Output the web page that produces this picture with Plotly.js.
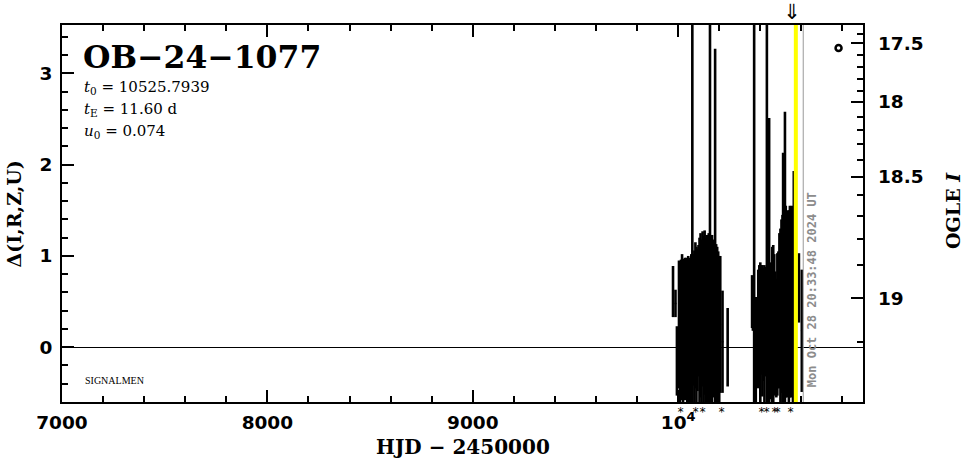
<!DOCTYPE html>
<html>
<head>
<meta charset="utf-8">
<script src="https://cdn.plot.ly/plotly-3.0.1.min.js"></script>
<style>html,body{margin:0;padding:0;background:#fff;}#plot{width:966px;height:459px;}</style>
</head>
<body>
<div id="plot"></div>
<script>
// ---- data (HJD-2450000, Delta, error) ----
var hjd1 = [9975,9987,9994,10004,10009,10014,10019,10024,10029,10034,10039,10044,10049,10054,10059,10064,10069,10074,10079,10084,10089,10094,10099,10104,10109,10114,10119,10124,10129,10134,10139,10144,10149,10155,10160,10165,10170,10175,10180,10185,10190,10195,10200,10205,10216,10241];
var dlt1 = [0.61,0.48,-0.15,0.25,0.10,0.30,0.22,0.15,0.35,0.20,0.28,0.10,0.32,0.18,0.25,0.12,0.40,0.30,0.22,0.35,0.18,0.30,0.40,0.25,0.35,0.20,0.42,0.30,0.38,0.22,0.35,0.28,0.40,0.45,0.32,0.25,0.38,0.30,0.30,0.28,0.20,0.35,0.15,0.25,0.06,0.00];
var err1 = [0.28,0.15,0.38,0.70,0.75,0.66,0.80,0.82,0.60,0.78,0.70,0.85,0.68,0.80,0.72,0.90,3.50,0.72,0.84,0.80,0.92,0.78,0.72,0.95,0.90,0.98,0.85,0.92,0.90,0.98,0.88,0.92,0.85,3.50,0.90,0.98,0.80,0.85,2.97,0.85,0.90,0.70,0.85,0.75,0.56,0.43];

var hjd2 = [10360,10364,10370,10378,10383,10390,10395,10400,10405,10410,10415,10420,10425,10432,10437,10443,10448,10453,10458,10463,10468,10473,10478,10483,10488,10493,10498,10503,10508,10511,10515,10520,10524,10529,10534,10539,10544,10549,10554,10559,10563,10568,10588,10602];
var dlt2 = [0.50,0.48,0.50,-0.05,0.10,0.20,0.25,0.15,0.30,0.18,0.25,0.12,0.28,0.50,0.22,0.30,0.18,0.30,0.25,0.20,0.32,0.15,0.10,0.25,0.30,0.40,0.35,0.45,0.40,0.50,0.45,0.50,0.50,0.45,0.55,0.40,0.50,0.45,0.55,0.40,0.45,0.50,0.65,0.18];
var err2 = [0.29,0.30,3.50,0.60,0.45,0.65,0.65,0.78,0.60,0.72,0.62,0.78,0.60,3.50,0.68,2.21,0.75,0.62,0.85,0.92,0.70,0.68,0.65,0.78,0.75,0.85,0.95,0.95,1.05,1.63,1.05,2.08,1.05,1.00,0.95,1.10,1.05,1.00,1.00,1.10,1.48,1.00,0.38,0.67];

// markers below the axis (*)
var asteriskT = [10009,10082,10119,10212,10406,10431,10471,10482,10547];
// OGLE reference point (o)
var ogleT = [10781], ogleD = [3.277];

// event info
var tPeak = 10555;      // arrow
var tYellow = 10573;    // yellow line
var tNow = 10609;       // current date line
var nowLabel = 'Mon Oct 28 20:33:48 2024 UT';

// axes
var xTickVals = [7000, 8000, 9000, 10000];
var xTickText = ['7000', '8000', '9000', '10<sup>4</sup>'];
var yTickVals = [0, 1, 2, 3];
var magLabels = ['17.5', '18', '18.5', '19'];
var magPos = [3.329, 2.689, 1.868, 0.537];
var magMinorPos = [3.430, 3.200, 3.072, 2.934, 2.806, 2.525, 2.379, 2.223, 2.051, 1.668, 1.443, 1.186, 0.901, 0.061];

var yRange = [-0.6, 3.53];
var xRange = [7000, 10900];

var tickFont = {family: 'DejaVu Sans', size: 18.5, color: '#000', weight: 'bold'};
var serif = 'DejaVu Serif';

var traces = [
  {
    x: hjd1.concat(hjd2), y: dlt1.concat(dlt2),
    error_y: {type: 'data', array: err1.concat(err2), visible: true, color: '#000', thickness: 2.6, width: 0},
    mode: 'markers', type: 'scatter', marker: {color: '#000', size: 2},
    xaxis: 'x', yaxis: 'y', hoverinfo: 'none'
  },
  {
    x: ogleT, y: ogleD, mode: 'markers', type: 'scatter',
    marker: {symbol: 'circle-open', size: 6, color: '#000', line: {color: '#000', width: 2.5}},
    xaxis: 'x', yaxis: 'y', hoverinfo: 'none'
  },
  { // invisible trace to activate right axis
    x: [xRange[0]], y: [yRange[0]], mode: 'markers', marker: {opacity: 0}, xaxis: 'x', yaxis: 'y2', hoverinfo: 'none'
  }
];

var annotations = [
    {text: 'OB−24−1077', xref: 'paper', yref: 'paper', x: 0.024, y: 0.9165, xanchor: 'left', yanchor: 'middle', showarrow: false,
     font: {family: serif, size: 31.5, color: '#000', weight: 'bold'}},
    {text: '<i>t</i><sub>0</sub> = 10525.7939', xref: 'paper', yref: 'paper', x: 0.025, y: (402-87)/377, xanchor: 'left', yanchor: 'middle', showarrow: false,
     font: {family: serif, size: 15, color: '#000'}},
    {text: '<i>t</i><sub>E</sub> = 11.60 d', xref: 'paper', yref: 'paper', x: 0.025, y: (402-109)/377, xanchor: 'left', yanchor: 'middle', showarrow: false,
     font: {family: serif, size: 15, color: '#000'}},
    {text: '<i>u</i><sub>0</sub> = 0.074', xref: 'paper', yref: 'paper', x: 0.025, y: (402-131)/377, xanchor: 'left', yanchor: 'middle', showarrow: false,
     font: {family: serif, size: 15, color: '#000'}},
    {text: 'SIGNALMEN', xref: 'paper', yref: 'paper', x: (83-62)/801, y: (402-380)/377, xanchor: 'left', yanchor: 'middle', showarrow: false,
     font: {family: 'Liberation Serif', size: 10, color: '#000'}},
    {text: 'HJD − 2450000', xref: 'paper', yref: 'paper', x: 0.5, y: (402-447)/377, xanchor: 'center', yanchor: 'middle', showarrow: false,
     font: {family: serif, size: 20, color: '#000', weight: 'bold'}},
    {text: 'Δ(I,R,Z,U)', xref: 'paper', yref: 'paper', x: (14-62)/801, y: (402-214.5)/377, xanchor: 'center', yanchor: 'middle', textangle: -90, showarrow: false,
     font: {family: serif, size: 19, color: '#000', weight: 'bold'}},
    {text: 'OGLE <i>I</i>', xref: 'paper', yref: 'paper', x: (953-62)/801, y: (402-211)/377, xanchor: 'center', yanchor: 'middle', textangle: -90, showarrow: false,
     font: {family: serif, size: 19, color: '#000', weight: 'bold'}},
    {text: nowLabel, xref: 'x', yref: 'y', x: tNow, y: 0.627, xanchor: 'left', yanchor: 'middle', xshift: 0, textangle: -90, showarrow: false,
     font: {family: 'DejaVu Sans Mono', size: 12, color: '#8c8c8c', weight: 'bold'}},
    {text: '⇓', xref: 'x', yref: 'paper', x: tPeak, y: 1, xanchor: 'center', yanchor: 'bottom', yshift: -1, showarrow: false,
     font: {family: 'DejaVu Sans', size: 21, color: '#000'}}
];
asteriskT.forEach(function (t) {
  annotations.push({text: '*', xref: 'x', yref: 'paper', x: t, y: 0, xanchor: 'center', yanchor: 'top', yshift: -1,
    showarrow: false, font: {family: 'DejaVu Sans Mono', size: 12, color: '#000'}});
});

var layout = {
  width: 966, height: 459,
  margin: {l: 62, r: 103, t: 25, b: 57},
  paper_bgcolor: '#fff', plot_bgcolor: '#fff',
  showlegend: false,
  xaxis: {
    range: xRange, tickmode: 'array', tickvals: xTickVals, ticktext: xTickText,
    ticks: 'inside', ticklen: 12, tickwidth: 2, tickcolor: '#000',
    minor: {dtick: 200, tick0: 7000, ticks: 'inside', ticklen: 6, tickwidth: 2, tickcolor: '#000'},
    showline: true, linewidth: 2, linecolor: '#000', mirror: 'ticks',
    showgrid: false, zeroline: false, tickfont: tickFont, ticklabelstandoff: 3
  },
  yaxis: {
    range: yRange, tickmode: 'array', tickvals: yTickVals,
    ticks: 'inside', ticklen: 12, tickwidth: 2, tickcolor: '#000',
    minor: {dtick: 0.2, tick0: 0, ticks: 'inside', ticklen: 6, tickwidth: 2, tickcolor: '#000'},
    showline: true, linewidth: 2, linecolor: '#000', mirror: true,
    showgrid: false, zeroline: true, zerolinecolor: '#000', zerolinewidth: 1,
    tickfont: tickFont, ticklabelstandoff: 4
  },
  yaxis2: {
    range: yRange, overlaying: 'y', side: 'right', anchor: 'x',
    tickmode: 'array', tickvals: magPos, ticktext: magLabels,
    ticks: 'inside', ticklen: 12, tickwidth: 2, tickcolor: '#000',
    minor: {tickmode: 'array', tickvals: magMinorPos, ticks: 'inside', ticklen: 6, tickwidth: 2, tickcolor: '#000'},
    showline: false, showgrid: false, zeroline: false, tickfont: tickFont, ticklabelstandoff: 14
  },
  shapes: [
    {type: 'line', xref: 'x', yref: 'paper', x0: tYellow, x1: tYellow, y0: 0, y1: 1, line: {color: '#ffff00', width: 4}},
    {type: 'line', xref: 'x', yref: 'paper', x0: tNow, x1: tNow, y0: 0, y1: 1, line: {color: '#999999', width: 1}}
  ],
  annotations: annotations
};

Plotly.newPlot('plot', traces, layout, {staticPlot: true, displayModeBar: false});
</script>
</body>
</html>
